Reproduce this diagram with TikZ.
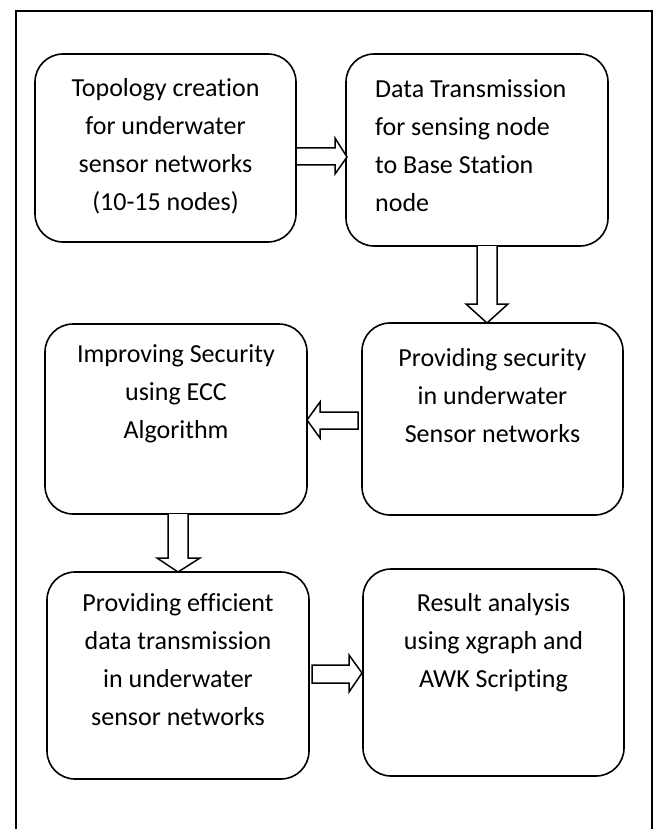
\documentclass[tikz,border=0pt]{standalone}
\usepackage{fontspec}
\setmainfont{Carlito}[Ligatures=NoCommon]
\usetikzlibrary{calc}
\tikzset{
  box/.style={draw, line width=1.6pt, rounded corners=28pt, inner sep=0pt},
  txt/.style={font=\fontsize{26}{38}\selectfont, inner sep=0pt},
  blk/.style={draw, fill=white, line width=1.5pt, line join=miter},
  frame/.style={line width=1.5pt}
}
\begin{document}
\begin{tikzpicture}[x=1pt,y=-1pt]
\useasboundingbox (0,0) rectangle (657,829);
% outer frame (open at bottom)
\coordinate (fbl) at (16,829);
\coordinate (ftl) at (16,11);
\coordinate (ftr) at (652,11);
\coordinate (fbr) at (652,829);
\draw[frame] (fbl) -- (ftl) -- (ftr) -- (fbr);
% boxes
\draw[box] (35,54) rectangle (296,242);
\draw[box] (346,54) rectangle (608,246);
\draw[box] (362,323) rectangle (623,515);
\draw[box] (45,324) rectangle (307,514);
\draw[box] (47,572) rectangle (309,779);
\draw[box] (363,569) rectangle (624,776);
% texts
\node[txt, align=center] (t1) at (165.5,146) {Topology creation\\for underwater\\sensor networks\\(10-15 nodes)};
\node[txt, align=left, anchor=west] (t2) at (375,146) {Data Transmission\\for sensing node\\to Base Station\\node};
\node[txt, align=center] (t3) at (492.5,396) {Providing security\\in underwater\\Sensor networks};
\node[txt, align=center] (t4) at (176,394) {Improving Security\\using ECC\\Algorithm};
\node[txt, align=center] (t5) at (178,660) {Providing efficient\\data transmission\\in underwater\\sensor networks};
\node[txt, align=center] (t6) at (493.5,643) {Result analysis\\using xgraph and\\AWK Scripting};
% block arrows
\draw[blk] (296,148) -- (335,148) -- (335,138) -- (347,157) -- (335,174) -- (335,165) -- (296,165) -- cycle;
\draw[blk] (477,246) -- (477,304) -- (466,304) -- (487,323) -- (508,304) -- (497,304) -- (497,246);
\draw[blk] (358,412) -- (320,412) -- (320,402) -- (307,420) -- (320,438) -- (320,429) -- (358,429) -- cycle;
\draw[blk] (168,514) -- (168,558) -- (157,558) -- (178,572) -- (200,558) -- (188,558) -- (188,514);
\draw[blk] (312,665) -- (349,665) -- (349,655) -- (362,673) -- (349,692) -- (349,683) -- (312,683) -- cycle;
\end{tikzpicture}
\end{document}
